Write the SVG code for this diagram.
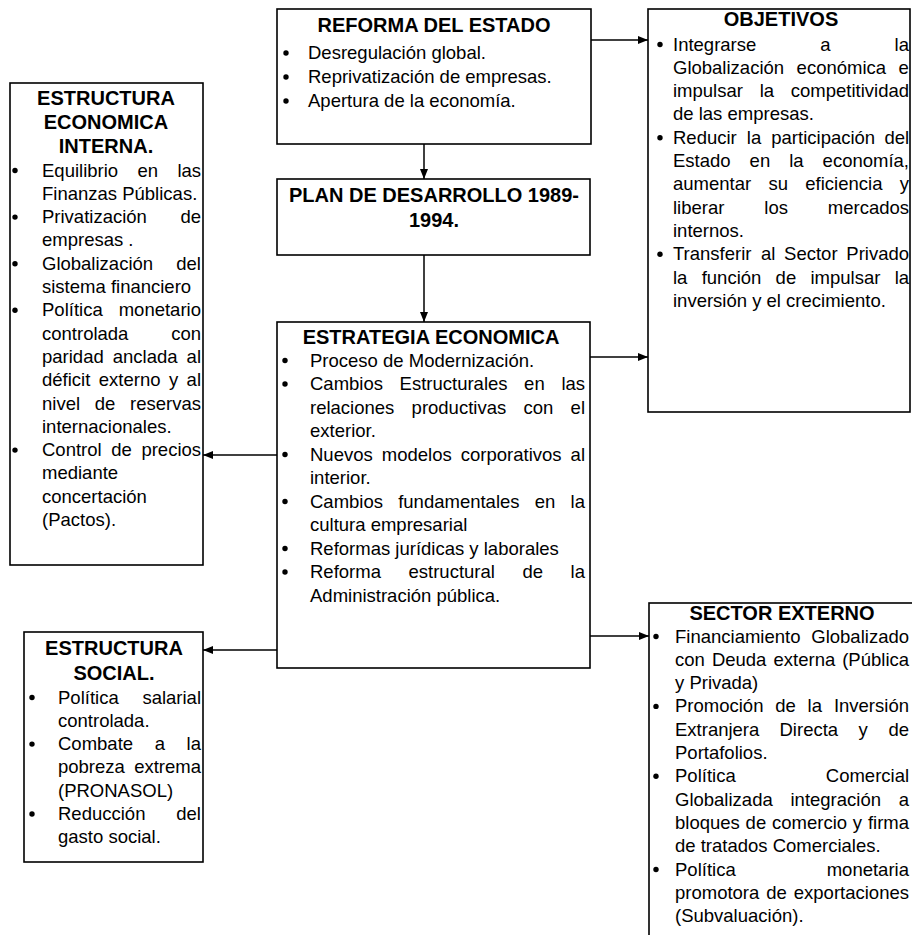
<svg xmlns="http://www.w3.org/2000/svg" width="912" height="935" viewBox="0 0 912 935">
<defs>
<style>
.box{fill:#fff;stroke:#000;stroke-width:1.6}
.h{font-family:"Liberation Sans",Arial,sans-serif;font-weight:bold;font-size:20px;fill:#000;text-anchor:middle}
.t{font-family:"Liberation Sans",Arial,sans-serif;font-size:18.5px;fill:#000}
.b{fill:#000}
.c{stroke:#000;stroke-width:1.5;fill:none;marker-end:url(#ah)}
</style>
<marker id="ah" markerUnits="userSpaceOnUse" markerWidth="10" markerHeight="8" refX="10" refY="4" orient="auto">
<path d="M0,0 L10,4 L0,8 z" fill="#000"/>
</marker>
</defs>
<rect width="912" height="935" fill="#fff"/>

<g id="connectors">
<path class="c" d="M424,144 V179"/>
<path class="c" d="M424,255 V322"/>
<path class="c" d="M591,40 H648"/>
<path class="c" d="M590,357 H648"/>
<path class="c" d="M277,455 H203"/>
<path class="c" d="M277,650 H203"/>
<path class="c" d="M590,636 H649"/>
</g>

<g id="reforma">
<rect class="box" x="277" y="9" width="314" height="135"/>
<text class="h" x="434" y="32">REFORMA DEL ESTADO</text>
<circle class="b" cx="286" cy="53" r="2.7"/>
<circle class="b" cx="286" cy="77" r="2.7"/>
<circle class="b" cx="286" cy="101" r="2.7"/>
<text class="t" x="308" y="59">Desregulación global.</text>
<text class="t" x="308" y="83">Reprivatización de empresas.</text>
<text class="t" x="308" y="107">Apertura de la economía.</text>
</g>

<g id="objetivos">
<rect class="box" x="648" y="9" width="262" height="403"/>
<text class="h" x="781" y="26">OBJETIVOS</text>
<circle class="b" cx="660" cy="44.5" r="2.7"/>
<circle class="b" cx="660" cy="137.7" r="2.7"/>
<circle class="b" cx="660" cy="254.2" r="2.7"/>
<text class="t" y="50.5"><tspan x="673">Integrarse</tspan><tspan x="820.3">a</tspan><tspan x="894.6">la</tspan></text>
<text class="t" y="73.8"><tspan x="673">Globalización</tspan><tspan x="796.6">económica</tspan><tspan x="898.6">e</tspan></text>
<text class="t" y="97.1"><tspan x="673">impulsar</tspan><tspan x="759.7">la</tspan><tspan x="790.8">competitividad</tspan></text>
<text class="t" x="673" y="120.4">de las empresas.</text>
<text class="t" y="143.7"><tspan x="673">Reducir</tspan><tspan x="746.8">la</tspan><tspan x="771.3">participación</tspan><tspan x="884.4">del</tspan></text>
<text class="t" y="167"><tspan x="673">Estado</tspan><tspan x="749.6">en</tspan><tspan x="789.2">la</tspan><tspan x="822.6">economía,</tspan></text>
<text class="t" y="190.3"><tspan x="673">aumentar</tspan><tspan x="768.4">su</tspan><tspan x="805.3">eficiencia</tspan><tspan x="899.7">y</tspan></text>
<text class="t" y="213.6"><tspan x="673">liberar</tspan><tspan x="764.3">los</tspan><tspan x="827.8">mercados</tspan></text>
<text class="t" x="673" y="236.9">internos.</text>
<text class="t" y="260.2"><tspan x="673">Transferir</tspan><tspan x="760.9">al</tspan><tspan x="784.1">Sector</tspan><tspan x="846.3">Privado</tspan></text>
<text class="t" y="283.5"><tspan x="673">la</tspan><tspan x="701.7">función</tspan><tspan x="775.6">de</tspan><tspan x="810.5">impulsar</tspan><tspan x="894.7">la</tspan></text>
<text class="t" x="673" y="306.8">inversión y el crecimiento.</text>
</g>

<g id="estructura-economica">
<rect class="box" x="10" y="83" width="193" height="482"/>
<text class="h" x="106" y="105">ESTRUCTURA</text>
<text class="h" x="106" y="129">ECONOMICA</text>
<text class="h" x="106" y="153">INTERNA.</text>
<circle class="b" cx="15" cy="170.5" r="2.7"/>
<circle class="b" cx="15" cy="217.1" r="2.7"/>
<circle class="b" cx="15" cy="263.7" r="2.7"/>
<circle class="b" cx="15" cy="310.3" r="2.7"/>
<circle class="b" cx="15" cy="450.1" r="2.7"/>
<text class="t" y="176.5"><tspan x="42">Equilibrio</tspan><tspan x="137.5">en</tspan><tspan x="177.4">las</tspan></text>
<text class="t" x="42" y="199.8">Finanzas Públicas.</text>
<text class="t" y="223.1"><tspan x="42">Privatización</tspan><tspan x="180.4">de</tspan></text>
<text class="t" x="42" y="246.4">empresas .</text>
<text class="t" y="269.7"><tspan x="42">Globalización</tspan><tspan x="176.3">del</tspan></text>
<text class="t" x="42" y="293">sistema financiero</text>
<text class="t" y="316.3"><tspan x="42">Política</tspan><tspan x="118.7">monetario</tspan></text>
<text class="t" y="339.6"><tspan x="42">controlada</tspan><tspan x="171.2">con</tspan></text>
<text class="t" y="362.9"><tspan x="42">paridad</tspan><tspan x="112.8">anclada</tspan><tspan x="186.6">al</tspan></text>
<text class="t" y="386.2"><tspan x="42">déficit</tspan><tspan x="98.8">externo</tspan><tspan x="168.9">y</tspan><tspan x="186.6">al</tspan></text>
<text class="t" y="409.5"><tspan x="42">nivel</tspan><tspan x="94.8">de</tspan><tspan x="130.1">reservas</tspan></text>
<text class="t" x="42" y="432.8">internacionales.</text>
<text class="t" y="456.1"><tspan x="42">Control</tspan><tspan x="111.2">de</tspan><tspan x="141.4">precios</tspan></text>
<text class="t" x="42" y="479.4">mediante</text>
<text class="t" x="42" y="502.7">concertación</text>
<text class="t" x="42" y="526">(Pactos).</text>
</g>

<g id="plan">
<rect class="box" x="277" y="179" width="313" height="76"/>
<text class="h" x="434" y="202">PLAN DE DESARROLLO 1989-</text>
<text class="h" x="434" y="227">1994.</text>
</g>

<g id="estrategia">
<rect class="box" x="277" y="322" width="313" height="346"/>
<text class="h" x="431" y="344">ESTRATEGIA ECONOMICA</text>
<circle class="b" cx="285" cy="360.5" r="2.7"/>
<circle class="b" cx="285" cy="384" r="2.7"/>
<circle class="b" cx="285" cy="454.5" r="2.7"/>
<circle class="b" cx="285" cy="501.5" r="2.7"/>
<circle class="b" cx="285" cy="548.5" r="2.7"/>
<circle class="b" cx="285" cy="572" r="2.7"/>
<text class="t" x="310" y="366.5">Proceso de Modernización.</text>
<text class="t" y="390"><tspan x="310">Cambios</tspan><tspan x="399.6">Estructurales</tspan><tspan x="524.1">en</tspan><tspan x="561.4">las</tspan></text>
<text class="t" y="413.5"><tspan x="310">relaciones</tspan><tspan x="411.6">productivas</tspan><tspan x="523.5">con</tspan><tspan x="570.6">el</tspan></text>
<text class="t" x="310" y="437">exterior.</text>
<text class="t" y="460.5"><tspan x="310">Nuevos</tspan><tspan x="381.8">modelos</tspan><tspan x="460.8">corporativos</tspan><tspan x="570.6">al</tspan></text>
<text class="t" x="310" y="484">interior.</text>
<text class="t" y="507.5"><tspan x="310">Cambios</tspan><tspan x="398.2">fundamentales</tspan><tspan x="534.8">en</tspan><tspan x="570.6">la</tspan></text>
<text class="t" x="310" y="531">cultura empresarial</text>
<text class="t" x="310" y="554.5">Reformas jurídicas y laborales</text>
<text class="t" y="578"><tspan x="310">Reforma</tspan><tspan x="408.5">estructural</tspan><tspan x="522.4">de</tspan><tspan x="570.6">la</tspan></text>
<text class="t" x="310" y="601.5">Administración pública.</text>
</g>

<g id="estructura-social">
<rect class="box" x="24" y="632" width="179" height="230"/>
<text class="h" x="114" y="655">ESTRUCTURA</text>
<text class="h" x="114" y="680">SOCIAL.</text>
<circle class="b" cx="32" cy="697.5" r="2.7"/>
<circle class="b" cx="32" cy="744.1" r="2.7"/>
<circle class="b" cx="32" cy="814" r="2.7"/>
<text class="t" y="703.5"><tspan x="58">Política</tspan><tspan x="142.4">salarial</tspan></text>
<text class="t" x="58" y="726.8">controlada.</text>
<text class="t" y="750.1"><tspan x="58">Combate</tspan><tspan x="154.7">a</tspan><tspan x="186.6">la</tspan></text>
<text class="t" y="773.4"><tspan x="58">pobreza</tspan><tspan x="134.2">extrema</tspan></text>
<text class="t" x="58" y="796.7">(PRONASOL)</text>
<text class="t" y="820"><tspan x="58">Reducción</tspan><tspan x="176.3">del</tspan></text>
<text class="t" x="58" y="843.3">gasto social.</text>
</g>

<g id="sector-externo">
<rect class="box" x="649" y="603" width="300" height="360"/>
<text class="h" x="782" y="620">SECTOR EXTERNO</text>
<circle class="b" cx="656" cy="636.5" r="2.7"/>
<circle class="b" cx="656" cy="706.4" r="2.7"/>
<circle class="b" cx="656" cy="776.3" r="2.7"/>
<circle class="b" cx="656" cy="869.5" r="2.7"/>
<text class="t" y="642.5"><tspan x="675">Financiamiento</tspan><tspan x="811.3">Globalizado</tspan></text>
<text class="t" y="665.8"><tspan x="675">con</tspan><tspan x="711.9">Deuda</tspan><tspan x="773.5">externa</tspan><tspan x="842.2">(Pública</tspan></text>
<text class="t" x="675" y="689.1">y Privada)</text>
<text class="t" y="712.4"><tspan x="675">Promoción</tspan><tspan x="775.2">de</tspan><tspan x="807.6">la</tspan><tspan x="833.9">Inversión</tspan></text>
<text class="t" y="735.7"><tspan x="675">Extranjera</tspan><tspan x="779.5">Directa</tspan><tspan x="858.6">y</tspan><tspan x="888.4">de</tspan></text>
<text class="t" x="675" y="759">Portafolios.</text>
<text class="t" y="782.3"><tspan x="675">Política</tspan><tspan x="825.8">Comercial</tspan></text>
<text class="t" y="805.6"><tspan x="675">Globalizada</tspan><tspan x="790.5">integración</tspan><tspan x="898.7">a</tspan></text>
<text class="t" y="828.9"><tspan x="675">bloques</tspan><tspan x="745.6">de</tspan><tspan x="772">comercio</tspan><tspan x="852.8">y</tspan><tspan x="867.9">firma</tspan></text>
<text class="t" x="675" y="852.2">de tratados Comerciales.</text>
<text class="t" y="875.5"><tspan x="675">Política</tspan><tspan x="826.7">monetaria</tspan></text>
<text class="t" y="898.8"><tspan x="675">promotora</tspan><tspan x="766.3">de</tspan><tspan x="793.8">exportaciones</tspan></text>
<text class="t" x="675" y="922.1">(Subvaluación).</text>
</g>
</svg>
